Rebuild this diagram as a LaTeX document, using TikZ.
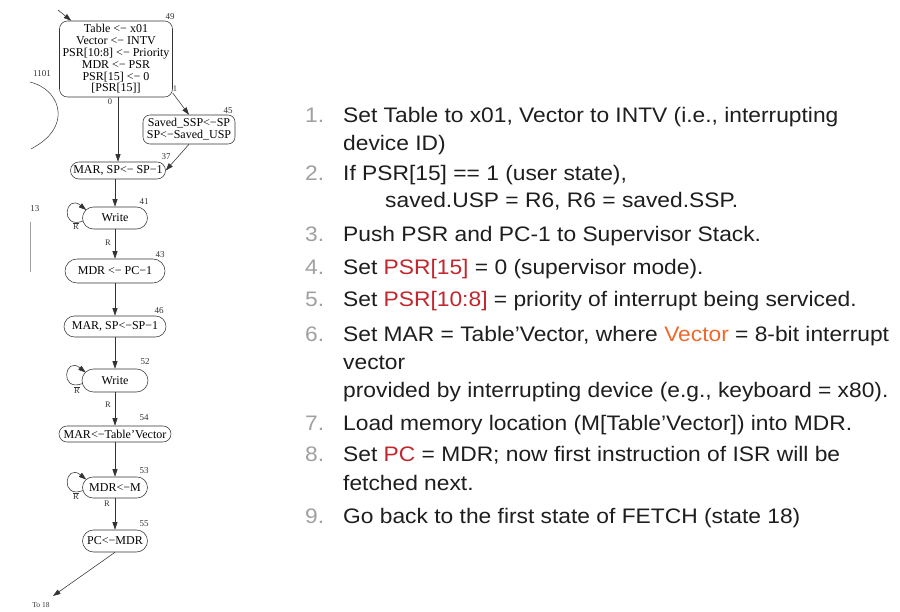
\documentclass[tikz,border=0pt]{standalone}
\usepackage{fontspec}
\setmainfont{Liberation Serif}
\newfontfamily\listfont{Liberation Sans}
\usetikzlibrary{arrows.meta,calc}

\definecolor{numgray}{HTML}{A0A0A0}
\definecolor{bodytext}{HTML}{1E1E1E}
\definecolor{hired}{HTML}{C1272D}
\definecolor{hiorange}{HTML}{EE6A2C}
\definecolor{edgegray}{HTML}{333333}

\newcommand{\hr}[1]{\textcolor{hired}{#1}}
\newcommand{\ho}[1]{\textcolor{hiorange}{#1}}
\newcommand{\Rbar}{$\overline{\hbox{R}}$}
% list lines are set slightly wide
\newcommand{\wide}[1]{\scalebox{1.085}[1]{#1}}

\tikzset{
  statebox/.style={draw=edgegray, line width=0.55pt, align=center, inner sep=0pt,
    font=\fontsize{12}{11.8}\selectfont},
  numlab/.style={font=\fontsize{9}{9}\selectfont, text=edgegray, inner sep=0pt},
  smalllab/.style={font=\fontsize{8.5}{9}\selectfont, text=edgegray, inner sep=0pt},
  arr/.style={draw=edgegray, line width=0.55pt, -{Triangle[length=7.5pt,width=5pt]}},
  itemnum/.style={anchor=base west, inner sep=0pt, text=numgray,
    font=\listfont\fontsize{21}{25}\selectfont},
  itemtext/.style={anchor=base west, inner sep=0pt, text=bodytext,
    font=\listfont\fontsize{21}{25}\selectfont},
}

\begin{document}
\begin{tikzpicture}[x=1pt,y=-1pt]
\useasboundingbox[fill=white] (0,0) rectangle (900,612);

% ---------------- state diagram ----------------
\node[statebox, rounded corners=8pt, minimum width=113pt, minimum height=76pt] (n49) at (116,59)
  {Table <− x01\\Vector <− INTV\\PSR[10:8] <− Priority\\MDR <− PSR\\PSR[15] <− 0\\{[PSR[15]]}};
\node[statebox, rounded corners=7pt, minimum width=92pt, minimum height=29pt] (n45) at (189,129.5)
  {Saved\_SSP<−SP\\SP<−Saved\_USP};
\node[statebox, rounded corners=8.5pt, minimum width=95pt, minimum height=17pt] (n37) at (118,170.5)
  {MAR, SP<− SP−1};
\node[statebox, rounded corners=11pt, minimum width=65pt, minimum height=22pt] (n41) at (115,218)
  {Write};
\node[statebox, rounded corners=12pt, minimum width=100pt, minimum height=24pt] (n43) at (115,271)
  {MDR <− PC−1};
\node[statebox, rounded corners=10.5pt, minimum width=102pt, minimum height=21pt] (n46) at (115,326.5)
  {MAR, SP<−SP−1};
\node[statebox, rounded corners=11.5pt, minimum width=66pt, minimum height=23pt] (n52) at (115,380.5)
  {Write};
\node[statebox, rounded corners=8pt, minimum width=112pt, minimum height=16pt] (n54) at (115,434)
  {MAR<−Table’Vector};
\node[statebox, rounded corners=10.5pt, minimum width=65pt, minimum height=21pt] (n53) at (115,487.5)
  {MDR<−M};
\node[statebox, rounded corners=11pt, minimum width=65pt, minimum height=22pt] (n55) at (115,541)
  {PC<−MDR};

% state numbers
\node[numlab] (s49) at (170,17) {49};
\node[numlab] (s45) at (228,111) {45};
\node[numlab] (s37) at (166,157) {37};
\node[numlab] (s41) at (144,202) {41};
\node[numlab] (s43) at (160,255) {43};
\node[numlab] (s46) at (159,311) {46};
\node[numlab] (s52) at (145,362) {52};
\node[numlab] (s54) at (144,418) {54};
\node[numlab] (s53) at (144,471) {53};
\node[numlab] (s55) at (144,524) {55};

% incoming transition
\coordinate (in49) at (58,10);
\draw[arr] (in49) -- ($(n49.north west)+(12,0)$);

% branch on PSR[15]
\draw[arr] (n49.south -| n37.north) -- (n37.north);
\node[smalllab] (b0) at (110,102) {0};
\draw[arr] (n49.-31) -- (n45.north);
\node[smalllab] (b1) at (175,89) {1};
\draw[arr] (n45.south) -- (n37.east);

% main chain
\draw[arr] (n37.south -| n41.north) -- (n41.north);
\draw[arr] (n41) -- (n43);
\node[smalllab] (r41) at (108,243) {R};
\draw[arr] (n43) -- (n46);
\draw[arr] (n46) -- (n52);
\draw[arr] (n52) -- (n54);
\node[smalllab] (r52) at (108,405) {R};
\draw[arr] (n54) -- (n53);
\draw[arr] (n53) -- (n55);
\node[smalllab] (r53) at (107,504) {R};

% wait loops on memory access
\draw[arr] ($(n41.west)+(1,3)$) .. controls +(-24,9) and +(-21,-17) .. ($(n41.west)+(4,-8)$);
\node[smalllab] (nr41) at (76,226) {\Rbar};
\draw[arr] ($(n52.west)+(1,3)$) .. controls +(-24,9) and +(-21,-17) .. ($(n52.west)+(4,-8)$);
\node[smalllab] (nr52) at (77,390) {\Rbar};
\draw[arr] ($(n53.west)+(1,3)$) .. controls +(-24,9) and +(-21,-17) .. ($(n53.west)+(4,-8)$);
\node[smalllab] (nr53) at (76,496) {\Rbar};

% exit to FETCH
\coordinate (to18) at (53,596);
\draw[arr] (n55.south) -- (to18);
\node[smalllab, font=\fontsize{7.5}{8}\selectfont] (l18) at (41,605) {To 18};

% fragments of neighbouring states
\node[numlab] (s1101) at (42,74) {1101};
\draw[edgegray, line width=0.5pt] (30,82) .. controls (50,87) and (62,104) .. (57,122)
  .. controls (53,135) and (42,143) .. (31,149);
\node[numlab] (s13) at (35,209) {13};
\draw[numgray, line width=0.6pt] (30,222) -- (30,272);

% ---------------- steps ----------------
\node[itemnum] (k1) at (305,122.3) {\wide{1.}};
\node[itemtext] (t1) at (343,122.3) {\wide{Set Table to x01, Vector to INTV (i.e., interrupting}};
\node[itemtext] (t1b) at (343,150.5) {\wide{device ID)}};
\node[itemnum] (k2) at (305,181) {\wide{2.}};
\node[itemtext] (t2) at (343,181) {\wide{If PSR[15] == 1 (user state),}};
\node[itemtext] (t2b) at (385,208) {\wide{saved.USP = R6, R6 = saved.SSP.}};
\node[itemnum] (k3) at (305,241.7) {\wide{3.}};
\node[itemtext] (t3) at (343,241.7) {\wide{Push PSR and PC-1 to Supervisor Stack.}};
\node[itemnum] (k4) at (305,275) {\wide{4.}};
\node[itemtext] (t4) at (343,275) {\wide{Set \hr{PSR[15]} = 0 (supervisor mode).}};
\node[itemnum] (k5) at (305,306.7) {\wide{5.}};
\node[itemtext] (t5) at (343,306.7) {\wide{Set \hr{PSR[10:8]} = priority of interrupt being serviced.}};
\node[itemnum] (k6) at (305,341.7) {\wide{6.}};
\node[itemtext] (t6) at (343,341.7) {\wide{Set MAR = Table’Vector, where \ho{Vector} = 8-bit interrupt}};
\node[itemtext] (t6b) at (343,370) {\wide{vector}};
\node[itemtext] (t6c) at (343,397) {\wide{provided by interrupting device (e.g., keyboard = x80).}};
\node[itemnum] (k7) at (305,430) {\wide{7.}};
\node[itemtext] (t7) at (343,430) {\wide{Load memory location (M[Table’Vector]) into MDR.}};
\node[itemnum] (k8) at (305,461.7) {\wide{8.}};
\node[itemtext] (t8) at (343,461.7) {\wide{Set \hr{PC} = MDR; now first instruction of ISR will be}};
\node[itemtext] (t8b) at (343,490) {\wide{fetched next.}};
\node[itemnum] (k9) at (305,523) {\wide{9.}};
\node[itemtext] (t9) at (343,523) {\wide{Go back to the first state of FETCH (state 18)}};
\end{tikzpicture}
\end{document}
